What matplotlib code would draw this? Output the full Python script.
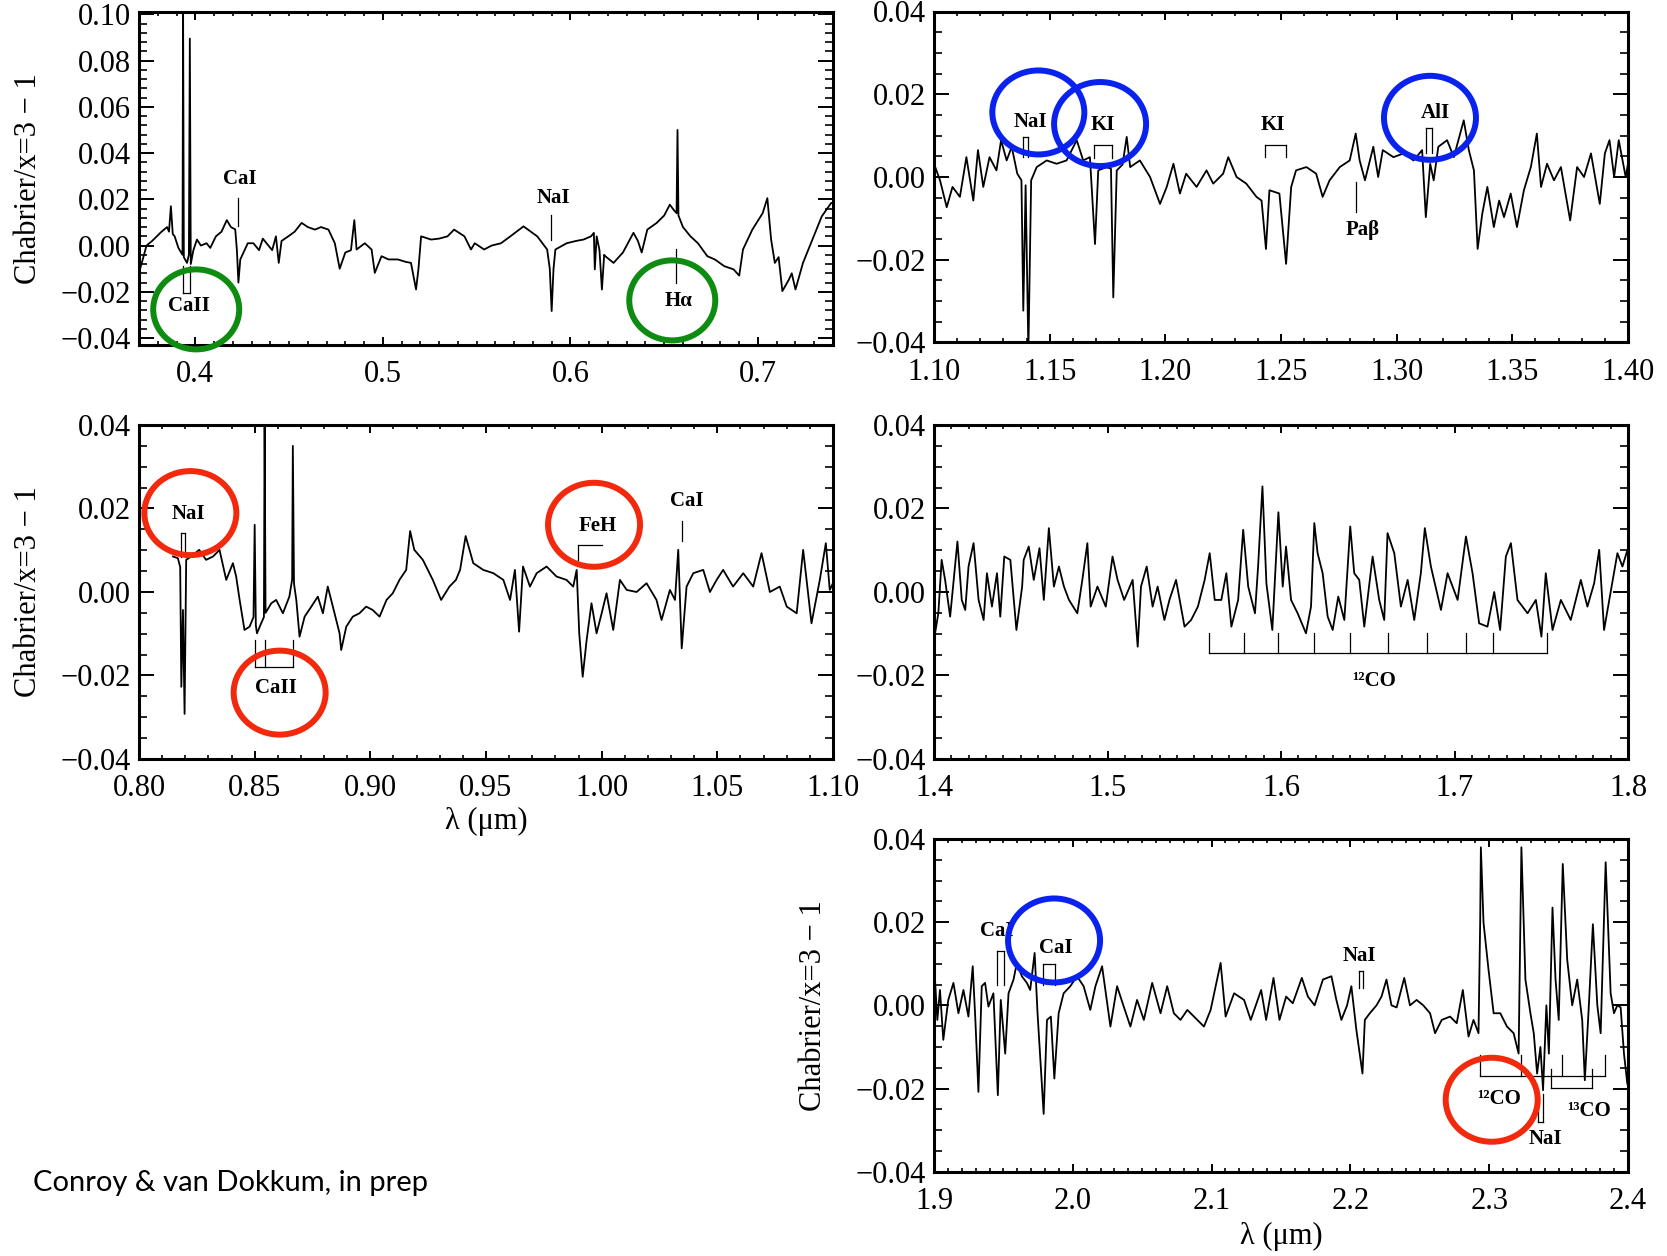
import numpy as np
import matplotlib
matplotlib.use("Agg")
import matplotlib.pyplot as plt
from matplotlib.patches import Ellipse
from matplotlib.ticker import MultipleLocator, FuncFormatter

W, H = 1667, 1256
plt.rcParams['font.family'] = ['Liberation Serif', 'DejaVu Serif']

# spectra: (wavelength in micron, Chabrier/x=3 - 1)
spec_opt = np.array([
    (0.3705, -0.0103), (0.372, -0.006), (0.374, 0.000), (0.377, 0.002), (0.3795, 0.004),
    (0.382, 0.006), (0.385, 0.008), (0.386, 0.006), (0.387, 0.017), (0.388, 0.005),
    (0.389, 0.004), (0.391, -0.001), (0.3925, -0.003), (0.3932, -0.004), (0.3935, 0.105),
    (0.3939, -0.005), (0.3956, -0.0075), (0.3966, -0.004), (0.3971, 0.0895), (0.3976, -0.008),
    (0.399, -0.002), (0.4009, 0.0026), (0.403, 0.000), (0.406, 0.001), (0.408, -0.001),
    (0.411, 0.004), (0.414, 0.006), (0.4168, 0.011), (0.419, 0.008), (0.4213, 0.007),
    (0.4222, -0.002), (0.423, -0.016), (0.424, -0.006), (0.4257, -0.003), (0.428, 0.001),
    (0.431, 0.001), (0.434, -0.002), (0.436, 0.003), (0.438, 0.001), (0.441, -0.002),
    (0.443, 0.004), (0.4445, -0.0075), (0.446, 0.002), (0.4496, 0.004), (0.453, 0.006),
    (0.4567, 0.0098), (0.460, 0.008), (0.4638, 0.0069), (0.467, 0.008), (0.471, 0.0069),
    (0.4744, 0.001), (0.477, -0.010), (0.480, -0.003), (0.483, -0.002), (0.4848, 0.011),
    (0.486, -0.0017), (0.4904, 0.001), (0.494, -0.0017), (0.4957, -0.0118), (0.4993, -0.0046),
    (0.503, -0.006), (0.508, -0.006), (0.512, -0.007), (0.515, -0.0075), (0.5177, -0.019),
    (0.519, -0.010), (0.5204, 0.004), (0.5257, 0.0026), (0.530, 0.003), (0.5345, 0.004),
    (0.538, 0.0069), (0.5435, 0.004), (0.547, -0.0017), (0.549, 0.001), (0.554, -0.0017),
    (0.558, 0.000), (0.563, 0.001), (0.568, 0.004), (0.575, 0.0083), (0.5823, 0.004),
    (0.5876, -0.0017), (0.589, -0.010), (0.590, -0.0283), (0.591, -0.010), (0.592, -0.0017),
    (0.598, 0.001), (0.603, 0.002), (0.607, 0.0026), (0.611, 0.004), (0.6125, 0.0055),
    (0.613, -0.0103), (0.614, 0.004), (0.6155, -0.002), (0.6168, -0.019), (0.618, -0.004),
    (0.6186, -0.0046), (0.623, -0.0075), (0.628, -0.003), (0.6336, 0.0055), (0.636, 0.002),
    (0.638, -0.003), (0.641, 0.0069), (0.646, 0.0098), (0.650, 0.013), (0.653, 0.0177),
    (0.655, 0.0155), (0.6566, 0.014), (0.6571, 0.050), (0.6576, 0.013), (0.660, 0.008),
    (0.664, 0.004), (0.668, 0.001), (0.673, -0.0046), (0.677, -0.006), (0.682, -0.0089),
    (0.687, -0.0103), (0.690, -0.013), (0.692, -0.0017), (0.697, 0.0069), (0.7025, 0.014),
    (0.705, 0.0205), (0.707, 0.0026), (0.709, -0.0075), (0.711, -0.005), (0.713, -0.0197),
    (0.7165, -0.0147), (0.718, -0.012), (0.720, -0.019), (0.724, -0.0075), (0.729, 0.0026),
    (0.734, 0.0126), (0.739, 0.0184), (0.740, 0.0184)])

spec_j = np.array([
    (1.100, 0.0032), (1.1026, -0.0008), (1.1055, -0.0073), (1.108, -0.0024), (1.1112, -0.0048),
    (1.114, 0.0048), (1.117, -0.0057), (1.119, 0.0065), (1.1213, -0.0024), (1.124, 0.0048),
    (1.127, 0.0016), (1.129, 0.0089), (1.1314, 0.004), (1.1336, 0.0073), (1.136, 0.0008),
    (1.1378, -0.0008), (1.1386, -0.0323), (1.1396, -0.002), (1.1408, -0.042), (1.142, -0.0008),
    (1.1444, 0.0024), (1.1487, 0.004), (1.153, 0.0032), (1.1573, 0.004), (1.1617, 0.0089),
    (1.1645, 0.004), (1.1674, 0.0048), (1.1696, -0.0162), (1.171, 0.0016), (1.1746, 0.0024),
    (1.1765, 0.002), (1.1775, -0.0291), (1.179, 0.0016), (1.1815, 0.003), (1.1833, 0.0097),
    (1.1848, 0.0024), (1.189, 0.004), (1.1934, 0.0), (1.1977, -0.0065), (1.2006, -0.0024),
    (1.2035, 0.0032), (1.2063, -0.004), (1.209, 0.0008), (1.2135, -0.0024), (1.2178, 0.0016),
    (1.2207, -0.0016), (1.225, 0.0008), (1.2272, 0.0048), (1.2308, 0.0), (1.235, -0.0016),
    (1.2394, -0.0048), (1.2416, -0.0057), (1.2435, -0.0174), (1.245, -0.0032), (1.2493, -0.004),
    (1.2522, -0.021), (1.2544, -0.0024), (1.2565, 0.0016), (1.261, 0.0024), (1.2652, 0.0008),
    (1.268, -0.0048), (1.271, -0.0008), (1.2754, 0.0024), (1.2797, 0.004), (1.2823, 0.0105),
    (1.284, 0.004), (1.2863, -0.0008), (1.2899, 0.0073), (1.292, 0.0), (1.294, 0.0065),
    (1.2986, 0.0048), (1.303, 0.0057), (1.3073, 0.004), (1.311, 0.0065), (1.3126, -0.0097),
    (1.3145, 0.0032), (1.316, -0.0008), (1.318, 0.0073), (1.3218, 0.0089), (1.3247, 0.0048),
    (1.329, 0.0137), (1.3312, 0.0065), (1.3334, 0.0016), (1.335, -0.0174), (1.337, -0.0089),
    (1.3392, -0.0024), (1.342, -0.0121), (1.3443, -0.0057), (1.3464, -0.0097), (1.3493, -0.004),
    (1.352, -0.0121), (1.355, -0.0032), (1.358, 0.0024), (1.3606, 0.0105), (1.3624, -0.0024),
    (1.365, 0.0032), (1.368, -0.0008), (1.371, 0.0024), (1.375, -0.0105), (1.378, 0.0024),
    (1.381, 0.0), (1.384, 0.0057), (1.3878, -0.0065), (1.390, 0.0057), (1.392, 0.0089),
    (1.394, 0.0), (1.396, 0.0089), (1.399, 0.0), (1.400, 0.0032)])

spec_i = np.array([
    (0.8147, 0.0085), (0.8168, 0.0081), (0.8178, 0.006), (0.8183, -0.0227), (0.819, -0.0043),
    (0.8197, -0.0292), (0.8204, 0.0077), (0.8226, 0.0085), (0.826, 0.0101), (0.829, 0.0077),
    (0.832, 0.0085), (0.8348, 0.0101), (0.8377, 0.0029), (0.8406, 0.0069), (0.842, 0.0037),
    (0.8435, -0.0019), (0.8456, -0.0091), (0.8478, -0.0083), (0.8495, -0.006), (0.850, 0.0161),
    (0.8505, -0.008), (0.851, -0.0099), (0.8528, -0.0075), (0.854, -0.006), (0.8543, 0.042),
    (0.8547, -0.005), (0.8572, -0.0027), (0.8593, -0.0019), (0.8622, -0.0051), (0.865, -0.0011),
    (0.8662, 0.003), (0.8665, 0.035), (0.867, 0.002), (0.868, -0.0019), (0.8694, -0.0107),
    (0.8716, -0.0059), (0.8745, -0.0035), (0.8773, -0.0011), (0.8795, -0.0051), (0.8816, 0.0013),
    (0.8838, -0.0035), (0.8867, -0.0099), (0.8874, -0.0139), (0.8896, -0.0083), (0.8924, -0.0059),
    (0.8953, -0.0051), (0.8982, -0.0035), (0.901, -0.0043), (0.904, -0.0059), (0.907, -0.0019),
    (0.9097, -0.0003), (0.9126, 0.0029), (0.9155, 0.0053), (0.9172, 0.0146), (0.919, 0.0101),
    (0.9227, 0.0077), (0.927, 0.0029), (0.9306, -0.0019), (0.9342, 0.0013), (0.937, 0.0029),
    (0.9388, 0.0053), (0.9412, 0.0134), (0.9445, 0.0069), (0.9488, 0.0053), (0.9532, 0.0045),
    (0.9575, 0.0029), (0.9604, -0.0019), (0.9625, 0.0053), (0.9643, -0.0095), (0.966, 0.0061),
    (0.969, 0.0013), (0.9719, 0.0045), (0.9762, 0.0061), (0.9805, 0.0037), (0.9848, 0.0029),
    (0.9877, 0.0013), (0.9892, 0.0053), (0.9903, -0.0099), (0.9918, -0.0203), (0.9935, -0.0115),
    (0.9956, -0.0027), (0.9978, -0.0099), (1.000, -0.0051), (1.0021, -0.0003), (1.005, -0.0091),
    (1.0079, 0.0029), (1.0108, 0.0005), (1.0151, 0.0), (1.0194, 0.0021), (1.0237, -0.0019),
    (1.0259, -0.0067), (1.0295, 0.0005), (1.0317, -0.0019), (1.0331, 0.0101), (1.0346, -0.0135),
    (1.0367, 0.0013), (1.0396, 0.0045), (1.0439, 0.0053), (1.0468, 0.0), (1.0497, 0.0029),
    (1.0525, 0.0053), (1.0568, 0.0013), (1.0612, 0.0045), (1.0655, 0.0013), (1.0691, 0.0093),
    (1.0727, 0.0), (1.077, 0.0013), (1.080, -0.0035), (1.0843, -0.0051), (1.0871, 0.0101),
    (1.0907, -0.0075), (1.0943, 0.0029), (1.0969, 0.0117), (1.0986, 0.0005), (1.100, 0.0021)])

spec_h = np.array([
    (1.4006, -0.0099), (1.4025, -0.0051), (1.4044, 0.0077), (1.4064, 0.0029), (1.4093, -0.0059),
    (1.4135, 0.0121), (1.416, -0.0019), (1.418, -0.0043), (1.4199, 0.0061), (1.4228, 0.0117),
    (1.4257, -0.0019), (1.4286, -0.0067), (1.4305, 0.0045), (1.4334, -0.0035), (1.4363, 0.0045),
    (1.4382, -0.0059), (1.4405, 0.0085), (1.444, 0.0077), (1.4475, -0.0091), (1.4508, 0.0013),
    (1.4517, 0.0077), (1.4546, 0.0109), (1.4575, 0.0029), (1.4608, 0.0105), (1.4633, -0.0019),
    (1.4662, 0.0153), (1.4691, 0.0013), (1.472, 0.0061), (1.4749, 0.0013), (1.4778, -0.0019),
    (1.4826, -0.0051), (1.4855, 0.0029), (1.4884, 0.0117), (1.4903, -0.0035), (1.4942, 0.0013),
    (1.499, -0.0035), (1.5029, 0.0085), (1.5058, 0.0029), (1.5096, -0.0019), (1.5145, 0.0029),
    (1.5174, -0.0131), (1.5193, 0.0013), (1.5226, 0.0061), (1.526, -0.0035), (1.5289, 0.0013),
    (1.5328, -0.0067), (1.5357, -0.0019), (1.5395, 0.0029), (1.5444, -0.0083), (1.5482, -0.0067),
    (1.5521, -0.0035), (1.556, 0.0029), (1.5589, 0.0093), (1.5618, -0.0019), (1.5656, -0.0019),
    (1.5685, 0.0045), (1.5714, -0.0083), (1.5753, -0.0019), (1.5782, 0.0149), (1.5811, 0.0013),
    (1.585, -0.0051), (1.5868, 0.0061), (1.5893, 0.0253), (1.5916, 0.002), (1.595, -0.0091),
    (1.5985, 0.0191), (1.601, 0.0013), (1.6029, 0.0109), (1.6058, -0.0019), (1.6096, -0.0051),
    (1.6144, -0.0099), (1.6173, -0.0035), (1.6192, 0.0165), (1.6211, 0.0093), (1.624, 0.0045),
    (1.6269, -0.0059), (1.6298, -0.0091), (1.633, -0.0011), (1.6365, -0.0067), (1.6399, 0.0157),
    (1.6422, 0.0045), (1.6451, 0.0029), (1.648, -0.0083), (1.6528, 0.0085), (1.6566, -0.0019),
    (1.6595, -0.0067), (1.6614, 0.0141), (1.6653, 0.0093), (1.6691, -0.0035), (1.673, 0.0029),
    (1.6768, -0.0067), (1.6806, 0.0045), (1.6829, 0.0153), (1.6864, 0.0061), (1.6922, -0.0043),
    (1.696, 0.0045), (1.7018, -0.0019), (1.7066, 0.0133), (1.7104, 0.0045), (1.7142, -0.0075),
    (1.719, -0.0083), (1.7229, 0.0), (1.7263, -0.0091), (1.7296, 0.0085), (1.7325, 0.0117),
    (1.7363, -0.0019), (1.7421, -0.0051), (1.7469, -0.0019), (1.7501, -0.0107), (1.7526, 0.0045),
    (1.7565, -0.0091), (1.7613, -0.0019), (1.767, -0.0067), (1.7728, 0.0029), (1.7766, -0.0035),
    (1.7805, 0.0021), (1.7834, 0.0101), (1.7862, -0.0091), (1.790, 0.0), (1.7939, 0.0093),
    (1.7968, 0.0061), (1.7997, 0.0101)])

spec_k = np.array([
    (1.9007, 0.0062), (1.9024, -0.0035), (1.9043, 0.0037), (1.9067, -0.0083), (1.9103, 0.0013),
    (1.914, 0.0054), (1.9176, -0.0019), (1.9212, 0.0037), (1.9248, -0.0027), (1.9279, 0.0094),
    (1.9298, -0.0035), (1.932, -0.0208), (1.9344, 0.0046), (1.9368, 0.0054), (1.9392, -0.0003),
    (1.9428, 0.0029), (1.946, -0.0216), (1.9481, 0.0013), (1.9513, -0.0116), (1.9537, 0.0029),
    (1.9573, 0.0062), (1.9597, 0.0102), (1.9633, 0.007), (1.9669, 0.0054), (1.9693, 0.0037),
    (1.9725, 0.0126), (1.9746, -0.0019), (1.979, -0.0261), (1.9814, -0.0035), (1.9842, -0.0027),
    (1.9867, -0.0176), (1.9898, -0.0019), (1.9934, 0.0029), (1.9982, 0.0046), (2.003, 0.007),
    (2.0078, 0.0046), (2.0126, -0.0011), (2.0163, 0.0046), (2.0211, 0.0094), (2.0271, -0.0051),
    (2.0319, 0.0046), (2.0367, -0.0003), (2.0415, -0.0051), (2.0463, 0.0013), (2.0512, -0.0035),
    (2.0572, 0.0054), (2.0632, -0.0019), (2.068, 0.0046), (2.0728, -0.0019), (2.0776, -0.0035),
    (2.0825, -0.0011), (2.0897, -0.0035), (2.0945, -0.0051), (2.0993, -0.0011), (2.1065, 0.0102),
    (2.1101, -0.0027), (2.1162, 0.0029), (2.1234, 0.0013), (2.1282, -0.0035), (2.1357, 0.0037),
    (2.1393, -0.0035), (2.1446, 0.0066), (2.1489, -0.0035), (2.1537, 0.0021), (2.1585, 0.0005),
    (2.165, 0.0066), (2.1694, 0.0021), (2.1742, 0.0), (2.1802, 0.0062), (2.1863, 0.007),
    (2.1899, 0.0013), (2.1935, -0.0035), (2.1976, 0.0), (2.2007, 0.0046), (2.2043, -0.0059),
    (2.2067, -0.0116), (2.2087, -0.0164), (2.2104, -0.0035), (2.214, -0.0019), (2.2188, 0.0),
    (2.2224, 0.0021), (2.226, 0.0062), (2.2296, 0.0), (2.2333, -0.0005), (2.2388, 0.0066),
    (2.2429, 0.0), (2.2477, 0.0013), (2.2525, 0.0), (2.2574, -0.0019), (2.261, -0.0067),
    (2.2658, -0.0035), (2.2718, -0.0027), (2.2766, -0.0043), (2.281, 0.0037), (2.2851, -0.0075),
    (2.2887, -0.0035), (2.2923, -0.0067), (2.2935, 0.020), (2.294, 0.038), (2.2959, 0.0199),
    (2.2995, 0.0086), (2.3032, -0.0019), (2.308, -0.0019), (2.3128, -0.0051), (2.3176, -0.0067),
    (2.3212, -0.0116), (2.3232, 0.038), (2.3261, 0.0062), (2.3297, -0.0019), (2.3321, -0.0067),
    (2.3345, -0.0164), (2.3369, -0.010), (2.3388, -0.0204), (2.3412, 0.0), (2.343, -0.0116),
    (2.3456, 0.0235), (2.3478, 0.0062), (2.3501, -0.0035), (2.353, 0.034), (2.3562, 0.011),
    (2.3598, 0.0), (2.3634, 0.0062), (2.367, -0.0035), (2.3689, -0.018), (2.3718, 0.0),
    (2.3747, 0.0195), (2.3779, 0.0), (2.3803, -0.0067), (2.3839, 0.0344), (2.3875, 0.0029),
    (2.3899, -0.0019), (2.3923, 0.0), (2.3947, -0.0005), (2.3971, -0.0116), (2.3995, -0.0188)])

# line identifications
co12_h = [1.5583, 1.5785, 1.5985, 1.6192, 1.6399, 1.6618, 1.6839, 1.7066, 1.722, 1.7536]
co12_k = [2.2935, 2.3229, 2.3525, 2.3832]
co13_k = [2.3448, 2.3742]

LBL = 15


def fmt(nd):
    def f(v, p):
        if abs(v) < 1e-9:
            v = 0.0
        return f'{v:.{nd}f}'.replace('-', '\u2212')
    return FuncFormatter(f)


def panel(rect, spec, xlim, ylim, xmaj, ymaj, xmin, ymin, xd):
    ax = fig.add_axes(rect)
    ax.plot(spec[:, 0], spec[:, 1], color='black', lw=1.3)
    ax.set_xlim(*xlim)
    ax.set_ylim(*ylim)
    ax.xaxis.set_major_locator(MultipleLocator(xmaj))
    ax.xaxis.set_minor_locator(MultipleLocator(xmin))
    ax.yaxis.set_major_locator(MultipleLocator(ymaj))
    ax.yaxis.set_minor_locator(MultipleLocator(ymin))
    ax.xaxis.set_major_formatter(fmt(xd))
    ax.yaxis.set_major_formatter(fmt(2))
    ax.tick_params(which='both', direction='in', top=True, right=True, labelsize=22)
    ax.tick_params(axis='y', which='major', length=11, width=1.4, pad=6)
    ax.tick_params(axis='y', which='minor', length=5.5, width=1.2)
    ax.tick_params(axis='x', which='major', length=5.5, width=1.4, pad=11)
    ax.tick_params(axis='x', which='minor', length=3, width=1.2)
    for s in ax.spines.values():
        s.set_linewidth(2.2)
    return ax


def bracket(ax, xs, tip, base, xr=None):
    for x in xs:
        ax.plot([x, x], [tip, base], color='black', lw=0.9)
    x0, x1 = (min(xs), max(xs)) if xr is None else xr
    if x1 > x0:
        ax.plot([x0, x1], [base, base], color='black', lw=0.9)


def tick(ax, x, y0, y1):
    ax.plot([x, x], [y0, y1], color='black', lw=0.9)


def label(ax, x, y, s):
    ax.text(x, y, s, ha='center', va='center', fontsize=LBL, fontweight='bold')


def ring(ax, x, y, rx, ry, color):
    pos = ax.get_position()
    x0, x1 = ax.get_xlim()
    y0, y1 = ax.get_ylim()
    w = 2 * rx * (x1 - x0) / (pos.width * W)
    h = 2 * ry * (y1 - y0) / (pos.height * H)
    ax.add_patch(Ellipse((x, y), w, h, fill=False, ec=color, lw=4.3,
                         clip_on=False, zorder=6))


GREEN = '#0e8c12'
BLUE = '#0a22ee'
RED = '#f2290c'
YLAB = 'Chabrier/x=3 \u2212 1'

fig = plt.figure(figsize=(W / 100, H / 100), dpi=100)

# top left: optical
ax1 = panel([139 / W, 1 - 345 / H, 694 / W, 333 / H], spec_opt, (0.37, 0.74), (-0.043, 0.101),
            0.1, 0.02, 0.01, 0.004, 1)
ax1.set_ylabel(YLAB, fontsize=22)
ax1.yaxis.set_label_coords(-0.138, 0.5)
bracket(ax1, [0.3935, 0.3973], -0.009, -0.0204)
label(ax1, 0.3965, -0.0262, 'CaII')
tick(ax1, 0.423, 0.0207, 0.0083)
label(ax1, 0.424, 0.0287, 'CaI')
tick(ax1, 0.5894, 0.0134, 0.0026)
label(ax1, 0.591, 0.0204, 'NaI')
tick(ax1, 0.6563, -0.0017, -0.016)
label(ax1, 0.6575, -0.024, 'H\u03b1')
ring(ax1, 0.4005, -0.0276, 43, 40, GREEN)
ring(ax1, 0.6543, -0.0237, 43, 40, GREEN)

# top right: J band
ax2 = panel([934 / W, 1 - 342.5 / H, 694 / W, 331 / H], spec_j, (1.10, 1.40), (-0.04, 0.04),
            0.05, 0.02, 0.01, 0.005, 2)
bracket(ax2, [1.1383, 1.1407], 0.0048, 0.0097)
label(ax2, 1.1418, 0.0133, 'NaI')
bracket(ax2, [1.1693, 1.1771], 0.0047, 0.0078)
label(ax2, 1.173, 0.0125, 'KI')
bracket(ax2, [1.2432, 1.2522], 0.0048, 0.0078)
label(ax2, 1.2467, 0.0125, 'KI')
tick(ax2, 1.2823, -0.0012, -0.0085)
label(ax2, 1.2852, -0.0128, 'Pa\u03b2')
bracket(ax2, [1.3126, 1.3152], 0.0057, 0.0119)
label(ax2, 1.3167, 0.0155, 'AlI')
ring(ax2, 1.1451, 0.0156, 46, 42, BLUE)
ring(ax2, 1.1718, 0.0128, 46, 42, BLUE)
ring(ax2, 1.3144, 0.0143, 46, 42, BLUE)

# middle left: far red
ax3 = panel([139 / W, 1 - 759 / H, 694 / W, 334 / H], spec_i, (0.80, 1.10), (-0.04, 0.04),
            0.05, 0.02, 0.01, 0.005, 2)
ax3.set_ylabel(YLAB, fontsize=22)
ax3.yaxis.set_label_coords(-0.138, 0.5)
ax3.set_xlabel('\u03bb (\u03bcm)', fontsize=22)
ax3.xaxis.set_label_coords(0.5, -0.144)
bracket(ax3, [0.8183, 0.8200], 0.0085, 0.0142)
label(ax3, 0.8212, 0.0186, 'NaI')
bracket(ax3, [0.8500, 0.8546, 0.8665], -0.0115, -0.0179)
label(ax3, 0.8593, -0.0231, 'CaII')
bracket(ax3, [0.9899], 0.0077, 0.0112, xr=(0.9899, 1.0003))
label(ax3, 0.9982, 0.0159, 'FeH')
tick(ax3, 1.0346, 0.0170, 0.0122)
label(ax3, 1.0367, 0.0218, 'CaI')
ring(ax3, 0.8222, 0.0189, 46, 42, RED)
ring(ax3, 0.8608, -0.0241, 46, 42, RED)
ring(ax3, 0.9967, 0.0161, 46, 42, RED)

# middle right: H band
ax4 = panel([934 / W, 1 - 759 / H, 694 / W, 334 / H], spec_h, (1.4, 1.8), (-0.04, 0.04),
            0.1, 0.02, 0.01, 0.005, 1)
bracket(ax4, co12_h, -0.0099, -0.0147)
label(ax4, 1.6538, -0.0212, '\u00b9\u00b2CO')

# bottom right: K band
ax5 = panel([934 / W, 1 - 1171.7 / H, 694 / W, 332.7 / H], spec_k, (1.9, 2.4), (-0.04, 0.04),
            0.1, 0.02, 0.01, 0.005, 1)
ax5.set_ylabel(YLAB, fontsize=22)
ax5.yaxis.set_label_coords(-0.153, 0.5)
ax5.set_xlabel('\u03bb (\u03bcm)', fontsize=22)
ax5.xaxis.set_label_coords(0.5, -0.15)
bracket(ax5, [1.9453, 1.9505], 0.0049, 0.013)
label(ax5, 1.9452, 0.0179, 'CaI')
bracket(ax5, [1.9785, 1.9874], 0.0049, 0.010)
label(ax5, 1.988, 0.0138, 'CaI')
bracket(ax5, [2.2063, 2.2092], 0.0042, 0.0082)
label(ax5, 2.2067, 0.0118, 'NaI')
bracket(ax5, co12_k, -0.012, -0.017)
label(ax5, 2.3068, -0.0224, '\u00b9\u00b2CO')
bracket(ax5, co13_k, -0.0152, -0.0199)
label(ax5, 2.3718, -0.0253, '\u00b9\u00b3CO')
bracket(ax5, [2.3350, 2.3386], -0.0212, -0.0281)
label(ax5, 2.3405, -0.0321, 'NaI')
ring(ax5, 2.3018, -0.0227, 46, 42, RED)
ring(ax5, 1.9865, 0.0156, 46, 42, BLUE)

fig.text(33 / W, 1 - 1183 / H, 'Conroy & van Dokkum, in prep', ha='left', va='center',
         fontsize=21, family=['Lato', 'DejaVu Sans'])

fig.savefig('out.png', dpi=100)
